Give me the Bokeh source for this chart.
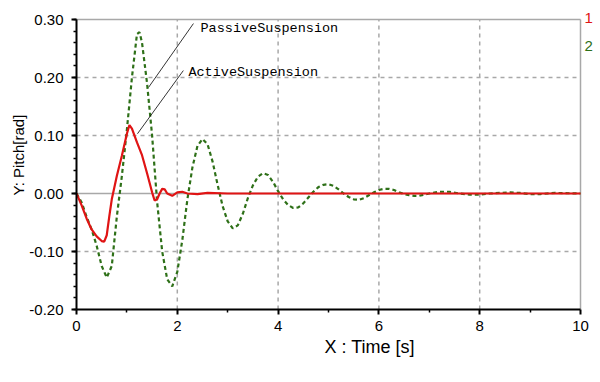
import math
from bokeh.plotting import figure
from bokeh.models import Range1d, FixedTicker, PrintfTickFormatter, Label, Title
from bokeh.embed import file_html
from bokeh.resources import INLINE

# ---- data ----
t_passive = [0.0, 0.1, 0.2, 0.3, 0.4, 0.5, 0.6, 0.7, 0.8, 0.9, 1.0, 1.1, 1.2, 1.25, 1.3, 1.4, 1.5,
             1.6, 1.7, 1.8, 1.9, 2.0, 2.1, 2.2, 2.3, 2.4, 2.5, 2.6, 2.7, 2.8, 2.9, 3.0, 3.1, 3.2,
             3.3, 3.4, 3.5, 3.6, 3.7, 3.8, 3.9, 4.0, 4.1, 4.2, 4.3, 4.4, 4.5, 4.6, 4.7, 4.8, 4.9,
             5.0, 5.1, 5.2, 5.3, 5.4, 5.5, 5.6, 5.7, 5.8, 5.9, 6.0, 6.1, 6.2, 6.3, 6.4, 6.5, 6.6,
             6.7, 6.8, 6.9, 7.0, 7.2, 7.4, 7.6, 7.8, 8.0, 8.2, 8.4, 8.6, 8.8, 9.0, 9.2, 9.5, 10.0]
y_passive = [0.0, -0.015, -0.04, -0.062, -0.09, -0.125, -0.145, -0.125, -0.04, 0.03, 0.11, 0.2,
             0.275, 0.278, 0.26, 0.19, 0.1, -0.015, -0.1, -0.148, -0.16, -0.135, -0.08, -0.01,
             0.045, 0.082, 0.094, 0.085, 0.055, 0.015, -0.022, -0.048, -0.06, -0.055, -0.035,
             -0.008, 0.014, 0.029, 0.035, 0.032, 0.02, 0.004, -0.01, -0.02, -0.025, -0.024,
             -0.017, -0.007, 0.003, 0.011, 0.015, 0.016, 0.013, 0.007, 0.0, -0.006, -0.01,
             -0.011, -0.008, -0.003, 0.002, 0.006, 0.008, 0.008, 0.006, 0.002, -0.001, -0.003,
             -0.004, -0.004, -0.002, 0.0, 0.003, 0.003, 0.0, -0.002, -0.002, 0.0, 0.001, 0.002,
             0.001, -0.001, -0.001, 0.001, 0.0]

t_active = [0.0, 0.1, 0.2, 0.3, 0.4, 0.5, 0.55, 0.6, 0.65, 0.7, 0.8, 0.9, 1.0, 1.05, 1.1, 1.2,
            1.3, 1.4, 1.5, 1.55, 1.6, 1.65, 1.7, 1.75, 1.8, 1.9, 2.0, 2.1, 2.2, 2.4, 2.6, 3.0, 10.0]
y_active = [0.0, -0.02, -0.043, -0.062, -0.074, -0.082, -0.083, -0.072, -0.04, -0.01, 0.03,
            0.065, 0.103, 0.118, 0.112, 0.088, 0.066, 0.035, 0.002, -0.012, -0.01, 0.0, 0.008,
            0.007, 0.0, -0.004, 0.002, 0.003, 0.0, -0.001, 0.001, 0.0, 0.0]

x_min, x_max = 0, 10
y_min, y_max = -0.2, 0.3
x_ticks = [0, 2, 4, 6, 8, 10]
x_minor = [1, 3, 5, 7, 9]
y_ticks = [-0.2, -0.1, 0.0, 0.1, 0.2, 0.3]
x_grid = [2, 4, 6, 8]
y_grid = [-0.1, 0.1, 0.2]
series_labels = ["1", "2"]
series_label_pos = [(10.08, 0.303), (10.08, 0.255)]
annot_texts = ["PassiveSuspension", "ActiveSuspension"]
annot_text_pos = [(2.46, 0.284), (2.22, 0.209)]
annot_leaders = [((1.43, 0.183), (2.32, 0.293)), ((1.21, 0.103), (2.12, 0.212))]

RED = "#e01414"
GREEN = "#2e7018"
GRID = "#a8a8a8"

# frame: x 0..10 -> 76..580 px, y -0.2..0.3 -> 309..19 px; extended a bit right/up for the "1"/"2" marks
px_x = 50.4
px_y = 580.0
p = figure(width=600, height=382, output_backend="svg", toolbar_location=None,
           x_range=Range1d(x_min, x_max + 18 / px_x), y_range=Range1d(y_min, y_max + 11 / px_y),
           min_border_left=76, min_border_right=2, min_border_top=8, min_border_bottom=73)
p.background_fill_color = "white"
p.border_fill_color = "white"
p.outline_line_color = None
p.xgrid.visible = False
p.ygrid.visible = False

for ax in (p.xaxis[0], p.yaxis[0]):
    ax.axis_line_color = "black"
    ax.axis_line_width = 2
    ax.major_tick_line_color = "black"
    ax.major_tick_line_width = 2
    ax.minor_tick_line_color = "black"
    ax.minor_tick_line_width = 1.5
    ax.major_tick_out = 5
    ax.major_tick_in = 0
    ax.minor_tick_out = 3
    ax.minor_tick_in = 0
    ax.major_label_text_font = "Liberation Sans"
    ax.major_label_text_font_size = "15px"
    ax.major_label_text_color = "black"

p.xaxis.bounds = (x_min, x_max)
p.yaxis.bounds = (y_min, y_max)
p.xaxis.ticker = FixedTicker(ticks=x_ticks, minor_ticks=x_minor)
p.xaxis.major_label_standoff = 6
y_minor = [round(y_min + 0.02 * i, 2) for i in range(26)]
p.yaxis.ticker = FixedTicker(ticks=y_ticks, minor_ticks=y_minor)
p.yaxis.formatter = PrintfTickFormatter(format="%.2f")
p.yaxis.major_label_standoff = 8

# grid (dashed) and frame/zero lines (solid), drawn under the curves
p.segment(x0=x_grid, y0=[y_min] * len(x_grid), x1=x_grid, y1=[y_max] * len(x_grid),
          line_color=GRID, line_width=1.5, line_dash="4 4")
p.segment(x0=[x_min] * len(y_grid), y0=y_grid, x1=[x_max] * len(y_grid), y1=y_grid,
          line_color=GRID, line_width=1.5, line_dash="4 4")
p.segment(x0=[x_min, x_max, x_min], y0=[y_max, y_min, 0.0], x1=[x_max, x_max, x_max],
          y1=[y_max, y_max, 0.0], line_color=GRID, line_width=1.5)

p.line(t_passive, y_passive, line_color=GREEN, line_width=2.2, line_dash="4 3")
p.line(t_active, y_active, line_color=RED, line_width=2.2)

for (a, b) in annot_leaders:
    p.segment(x0=[a[0]], y0=[a[1]], x1=[b[0]], y1=[b[1]], line_color="black", line_width=0.8)
for txt, (tx, ty) in zip(annot_texts, annot_text_pos):
    p.add_layout(Label(x=tx, y=ty, text=txt, text_font="Liberation Mono",
                       text_font_size="13.5px", text_baseline="middle", text_color="black"))

for txt, (tx, ty), col in zip(series_labels, series_label_pos, [RED, GREEN]):
    p.add_layout(Label(x=tx, y=ty, text=txt, text_font="Liberation Sans",
                       text_font_size="15px", text_color=col, text_baseline="middle"))

# axis titles
p.add_layout(Title(text="X : Time [s]", align="left", offset=248, standoff=3,
                   text_font="Liberation Sans", text_font_size="18px",
                   text_font_style="normal", text_color="black"), "below")
p.add_layout(Title(text="Y: Pitch[rad]", align="left", offset=114, standoff=0,
                   text_font="Liberation Sans", text_font_size="15px",
                   text_font_style="normal", text_color="black"), "left")

open("out.html", "w").write(file_html(p, INLINE))
